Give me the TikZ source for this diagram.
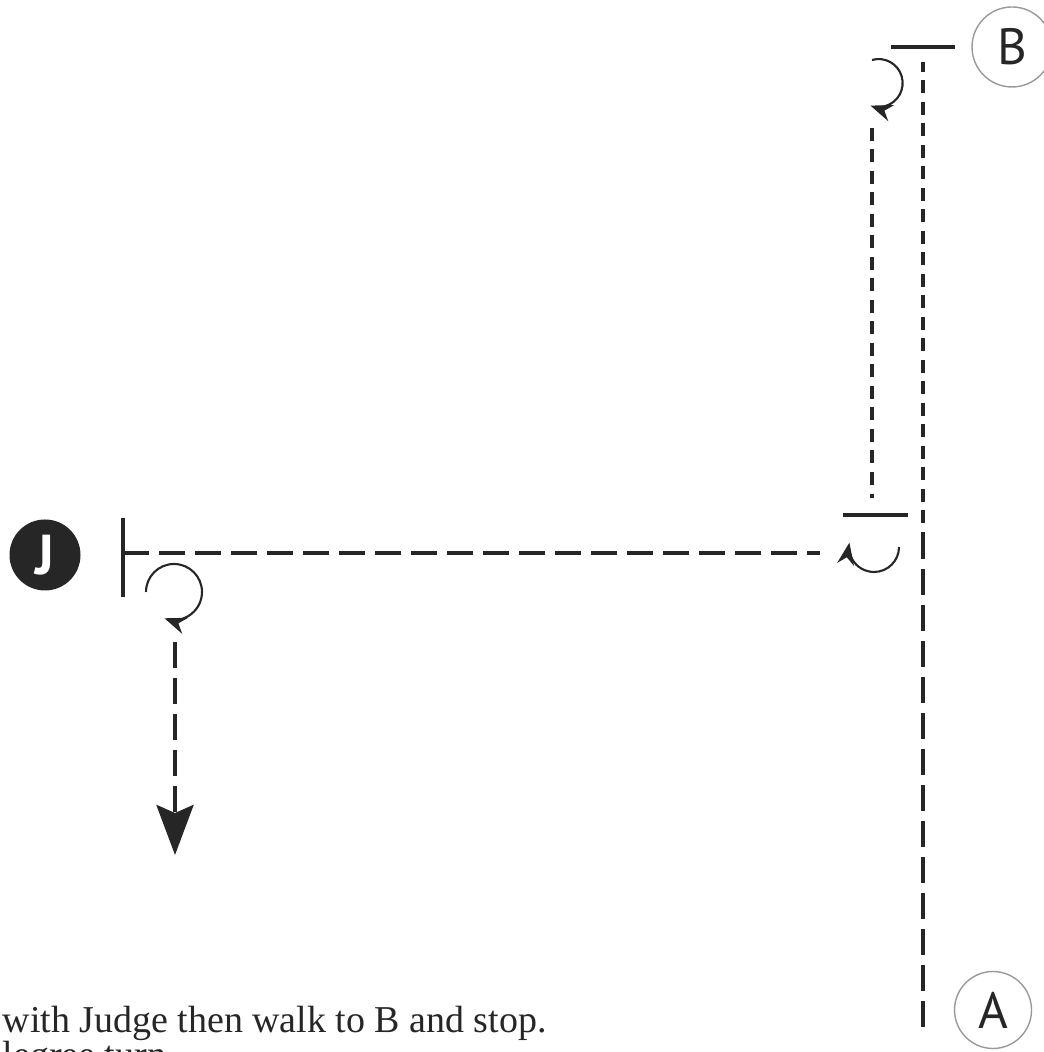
\documentclass[tikz,border=0pt]{standalone}
\usepackage{fontspec}
\setmainfont{Liberation Serif}
\setsansfont{PT Sans}
\usetikzlibrary{arrows.meta}

\tikzset{
	walkline/.style={draw=black!85, line width=1.15pt, dash pattern=on 0.26cm off 0.10cm},
	dotline/.style={draw=black!85, line width=1.2pt, dash pattern=on 0.13cm off 0.085cm},
	stopbar/.style={draw=black!85, line width=1.15pt},
	turnarc/.style={draw=black!85, line width=0.6pt, -{Stealth[length=0.22cm,width=0.17cm]}},
	cone/.style={draw=black!40, line width=0.4pt, circle, minimum size=0.8cm, inner sep=0pt, font=\sffamily\fontsize{14.5}{14.5}\selectfont, text=black!85},
	note/.style={anchor=base west, inner sep=0pt, text=black!85, font=\fontsize{10.8}{10}\selectfont},
}

\begin{document}
\begin{tikzpicture}
	\useasboundingbox (0,0) rectangle (10.43,10.52);

	\node[cone] (B) at (10.12,10.05) {B};
	\node[cone, minimum size=0.77cm] (A) at (9.93,0.42) {A};
	\node[circle, fill=black!85, text=white, minimum size=0.71cm, inner sep=0pt, font=\sffamily\bfseries\fontsize{16}{16}\selectfont] (J) at (0.45,4.97) {J};

	\coordinate (startT) at (1.23,5.34);
	\coordinate (startB) at (1.23,4.55);
	\coordinate (start) at (1.23,4.99);
	\coordinate (halt1) at (8.20,4.99);
	\coordinate (up1) at (9.23,0.25);
	\coordinate (up2) at (9.23,5.07);
	\coordinate (up3) at (9.23,9.90);
	\coordinate (barTL) at (8.91,10.05);
	\coordinate (barTR) at (9.55,10.05);
	\coordinate (back1) at (8.72,9.24);
	\coordinate (back2) at (8.72,5.54);
	\coordinate (barML) at (8.43,5.37);
	\coordinate (barMR) at (9.08,5.37);
	\coordinate (exit1) at (1.75,4.10);
	\coordinate (exit2) at (1.75,1.97);

	\draw[stopbar] (startT) -- (startB);
	\draw[walkline] (start) -- (halt1);
	\draw[walkline] (up1) -- (up2);
	\draw[dotline] (up2) -- (up3);
	\draw[stopbar] (barTL) -- (barTR);
	\draw[dotline] (back1) -- (back2);
	\draw[stopbar] (barML) -- (barMR);
	\draw[walkline, -{Stealth[length=0.5cm,width=0.37cm,inset=0.08cm]}] (exit1) -- (exit2);

	\draw[turnarc] (1.46,4.60) arc[start angle=180, end angle=-110, radius=0.28];
	\draw[turnarc] (8.72,9.92) arc[start angle=106, end angle=-110, radius=0.24];
	\draw[turnarc] (8.99,5.05) arc[start angle=0, end angle=-190, radius=0.25];

	\node[note] (line1) at (0.02,0.19) {with Judge then walk to B and stop.};
	\node[note] (line2) at (0.02,-0.15) {legree turn.};
\end{tikzpicture}
\end{document}
